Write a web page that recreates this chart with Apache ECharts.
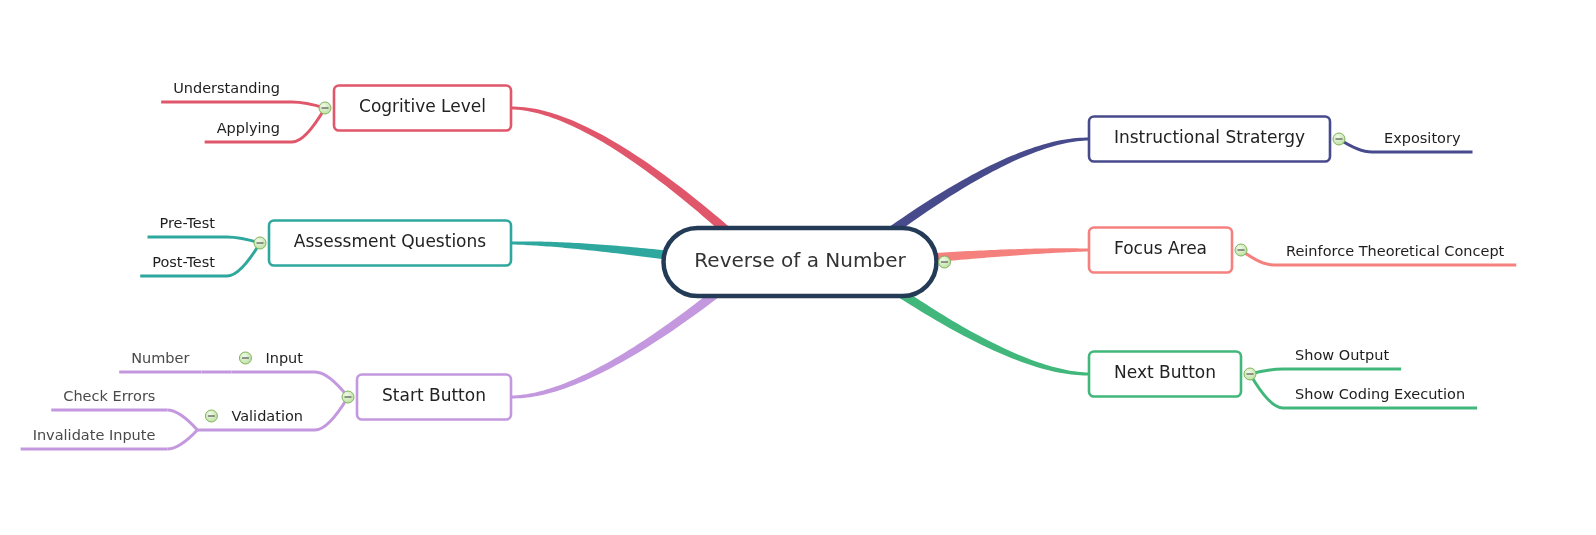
<!DOCTYPE html>
<html style="height: 100%">
<head>
    <meta charset="utf-8">
    <script type="text/javascript" src="https://cdn.jsdelivr.net/npm/echarts@6/dist/echarts.min.js"></script>
</head>
<body style="height: 100%; margin: 0; background: #fff">
    <div id="main" style="width: 1596px; height: 535px"></div>
    <script type="text/javascript">
        // ---- data ----
        var rootTopic = 'Reverse of a Number';
        var rootCenter = [800, 262];

        var mainTopics = ['Cogritive Level', 'Assessment Questions', 'Start Button',
            'Instructional Stratergy', 'Focus Area', 'Next Button'];
        var mainSide = ['left', 'left', 'left', 'right', 'right', 'right'];
        var mainEdgeX = [511, 511, 511, 1089, 1089, 1089];
        var mainY = [108, 243, 397, 139, 250, 374];

        var subTopics = ['Understanding', 'Applying', 'Pre-Test', 'Post-Test', 'Input', 'Validation',
            'Number', 'Check Errors', 'Invalidate Inpute', 'Expository',
            'Reinforce Theoretical Concept', 'Show Output', 'Show Coding Execution'];
        var subParent = ['Cogritive Level', 'Cogritive Level', 'Assessment Questions', 'Assessment Questions',
            'Start Button', 'Start Button', 'Input', 'Validation', 'Validation', 'Instructional Stratergy',
            'Focus Area', 'Next Button', 'Next Button'];
        var subY = [102, 142, 237, 276, 372, 430, 372, 410, 449, 152, 265, 369, 408];

        // ---- style ----
        var branchColors = ['#e0566a', '#2ea89e', '#c398df', '#474a8b', '#f5817e', '#41b77b'];
        var rootColor = '#243b57';
        var FONT = '"DejaVu Sans", Verdana, sans-serif';
        var ROOT_SIZE = 20, MAIN_SIZE = 17, SUB_SIZE = 14.5, LEAF_SIZE = 14.5;

        var measureCtx = document.createElement('canvas').getContext('2d');
        function textW(text, size) {
            measureCtx.font = size + 'px ' + FONT;
            return measureCtx.measureText(text).width;
        }

        // ---- layout ----
        var rootW = Math.round(textW(rootTopic, ROOT_SIZE) + 62), rootH = 68;

        function insidePill(x, y, inset) {
            var hw = rootW / 2 - rootH / 2;
            var cx = Math.max(rootCenter[0] - hw, Math.min(rootCenter[0] + hw, x));
            return Math.hypot(x - cx, y - rootCenter[1]) <= rootH / 2 - inset;
        }
        // where a branch leaves the central topic
        function rootAttach(target) {
            var dx = (target[0] - rootCenter[0]) * 1.3, dy = target[1] - rootCenter[1];
            var len = Math.hypot(dx, dy);
            dx /= len; dy /= len;
            var d = 0;
            while (insidePill(rootCenter[0] + dx * d, rootCenter[1] + dy * d, 5)) d += 0.5;
            return [rootCenter[0] + dx * d, rootCenter[1] + dy * d];
        }

        var mainLayout = mainTopics.map(function (name, i) {
            var s = mainSide[i] === 'left' ? -1 : 1;
            var w = Math.round(textW(name, MAIN_SIZE) + 50);
            var x0 = s < 0 ? mainEdgeX[i] - w : mainEdgeX[i];
            var outer = s < 0 ? x0 : x0 + w;
            return {
                s: s, x0: x0, w: w, color: branchColors[i],
                icon: [outer + s * 9, mainY[i]],
                attach: rootAttach([mainEdgeX[i], mainY[i]])
            };
        });

        var subLayout = {};
        subTopics.forEach(function (name, i) {
            var p = subParent[i], mi = mainTopics.indexOf(p);
            var base = mi >= 0 ? mainLayout[mi] : subLayout[p];
            var s = base.s;
            var from = mi >= 0 ? base.icon : base.end;
            var leaf = mi < 0;
            var size = leaf ? LEAF_SIZE : SUB_SIZE;
            var tw = textW(name, size);
            var hasKids = subParent.indexOf(name) >= 0;
            var bx = from[0] + s * (leaf ? 30 : 33);
            var ex = bx + s * (tw + 24 + (hasKids ? 22 : 0));
            subLayout[name] = {
                s: s, color: base.color, size: size, leaf: leaf,
                from: from, start: [bx, subY[i]], end: [ex, subY[i]],
                label: [bx + s * 12, subY[i] - 13],
                icon: hasKids ? [bx + s * (12 + tw + 20), subY[i] - 14] : null
            };
        });

        // ---- drawing helpers ----
        function iconEls(p) {
            return [
                { type: 'circle', shape: { cx: p[0], cy: p[1], r: 6 },
                  style: { fill: new echarts.graphic.RadialGradient(0.4, 0.35, 0.7, [
                            { offset: 0, color: '#f1fae9' }, { offset: 1, color: '#b7de9a' }]),
                           stroke: '#7fb45c', lineWidth: 1 } },
                { type: 'line', shape: { x1: p[0] - 3.5, y1: p[1], x2: p[0] + 3.5, y2: p[1] },
                  style: { stroke: '#555', lineWidth: 1.2 } }
            ];
        }
        function textEl(x, y, text, size, color, align) {
            return {
                type: 'text', x: x, y: y,
                style: { text: text, font: size + 'px ' + FONT, fill: color,
                         align: align, textAlign: align, verticalAlign: 'middle', textVerticalAlign: 'middle' }
            };
        }
        // tapered quadratic branch from a main topic to the central topic
        function taperedPath(P0, P3) {
            var Q = [P0[0] + 0.35 * (P3[0] - P0[0]), P0[1]];
            var left = [], right = [], N = 48;
            for (var k = 0; k <= N; k++) {
                var t = k / N, u = 1 - t;
                var x = u * u * P0[0] + 2 * u * t * Q[0] + t * t * P3[0];
                var y = u * u * P0[1] + 2 * u * t * Q[1] + t * t * P3[1];
                var dx = 2 * u * (Q[0] - P0[0]) + 2 * t * (P3[0] - Q[0]);
                var dy = 2 * u * (Q[1] - P0[1]) + 2 * t * (P3[1] - Q[1]);
                var l = Math.hypot(dx, dy) || 1;
                var hw = (2.8 + 6.5 * t) / 2;
                left.push([x - dy / l * hw, y + dx / l * hw]);
                right.push([x + dy / l * hw, y - dx / l * hw]);
            }
            return left.concat(right.reverse());
        }

        var chart = echarts.init(document.getElementById('main'));

        var option = {
            animation: false,
            backgroundColor: '#fff',
            grid: { left: 0, right: 0, top: 0, bottom: 0 },
            xAxis: { type: 'value', min: 0, max: 1596, show: false },
            yAxis: { type: 'value', min: 0, max: 535, inverse: true, show: false },
            series: [
                {
                    // main branches
                    type: 'custom', z: 1, clip: false,
                    data: mainLayout.map(function (m, i) {
                        return [mainEdgeX[i], mainY[i], m.attach[0], m.attach[1], i];
                    }),
                    renderItem: function (params, api) {
                        var i = api.value(4);
                        var P0 = api.coord([api.value(0), api.value(1)]);
                        var P3 = api.coord([api.value(2), api.value(3)]);
                        return { type: 'polygon', shape: { points: taperedPath(P0, P3) },
                                 style: { fill: branchColors[i] } };
                    }
                },
                {
                    // sub topics
                    type: 'custom', z: 2, clip: false,
                    data: subTopics.map(function (name, i) {
                        var L = subLayout[name];
                        return [L.from[0], L.from[1], L.start[0], L.start[1], L.end[0], L.end[1],
                            L.label[0], L.label[1], L.icon ? L.icon[0] : 0, L.icon ? L.icon[1] : 0, i];
                    }),
                    renderItem: function (params, api) {
                        var i = api.value(10), L = subLayout[subTopics[i]];
                        var A = api.coord([api.value(0), api.value(1)]);
                        var B = api.coord([api.value(2), api.value(3)]);
                        var C = api.coord([api.value(4), api.value(5)]);
                        var T = api.coord([api.value(6), api.value(7)]);
                        var els = [
                            { type: 'bezierCurve',
                              shape: { x1: A[0], y1: A[1], cpx1: A[0] + 0.6 * (B[0] - A[0]), cpy1: B[1], x2: B[0], y2: B[1] },
                              style: { stroke: L.color, lineWidth: 3, fill: null } },
                            { type: 'line', shape: { x1: B[0], y1: B[1], x2: C[0], y2: C[1] },
                              style: { stroke: L.color, lineWidth: 3 } },
                            textEl(T[0], T[1], subTopics[i], L.size, L.leaf ? '#4a4a4a' : '#1e1e1e',
                                L.s < 0 ? 'right' : 'left')
                        ];
                        if (L.icon) {
                            els = els.concat(iconEls(api.coord([api.value(8), api.value(9)])));
                        }
                        return { type: 'group', children: els };
                    }
                },
                {
                    // main topics
                    type: 'custom', z: 3, clip: false,
                    data: mainLayout.map(function (m, i) {
                        return [m.x0, mainY[i], m.icon[0], m.icon[1], i];
                    }),
                    renderItem: function (params, api) {
                        var i = api.value(4), m = mainLayout[i];
                        var p = api.coord([api.value(0), api.value(1)]);
                        var ic = api.coord([api.value(2), api.value(3)]);
                        return {
                            type: 'group',
                            children: [
                                { type: 'rect', shape: { x: p[0], y: p[1] - 22.5, width: m.w, height: 45, r: 5 },
                                  style: { fill: '#fff', stroke: m.color, lineWidth: 2.6 } },
                                textEl(p[0] + m.w / 2, p[1], mainTopics[i], MAIN_SIZE, '#222', 'center')
                            ].concat(iconEls(ic))
                        };
                    }
                },
                {
                    // central topic
                    type: 'custom', z: 4, clip: false,
                    data: [[rootCenter[0], rootCenter[1]]],
                    renderItem: function (params, api) {
                        var c = api.coord([api.value(0), api.value(1)]);
                        return {
                            type: 'group',
                            children: [
                                { type: 'rect',
                                  shape: { x: c[0] - rootW / 2, y: c[1] - rootH / 2, width: rootW, height: rootH, r: rootH / 2 },
                                  style: { fill: '#fff', stroke: rootColor, lineWidth: 4.5 } },
                                textEl(c[0], c[1], rootTopic, ROOT_SIZE, '#333', 'center')
                            ].concat(iconEls([c[0] + rootW / 2 + 8, c[1]]))
                        };
                    }
                }
            ]
        };
        chart.setOption(option);
    </script>
</body>
</html>
